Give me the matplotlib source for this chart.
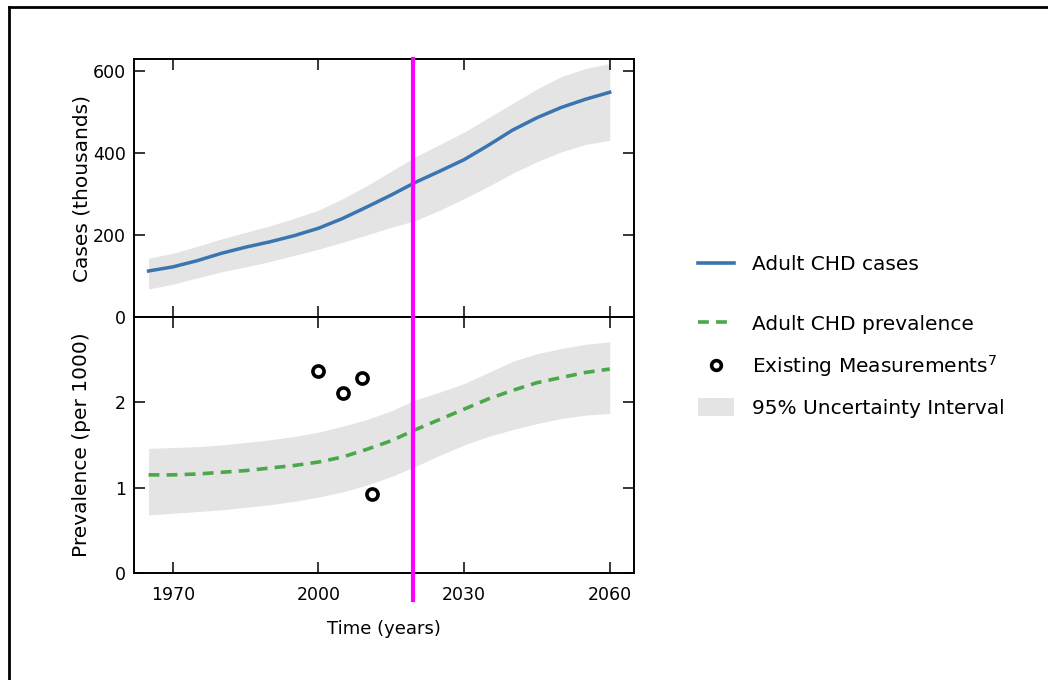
import numpy as np
import matplotlib
matplotlib.use("Agg")
import matplotlib.pyplot as plt
from matplotlib.lines import Line2D
from matplotlib.patches import Patch
import matplotlib.transforms as mtransforms

# Data
years = [1965, 1970, 1975, 1980, 1985, 1990, 1995, 2000, 2005, 2010,
         2015, 2020, 2025, 2030, 2035, 2040, 2045, 2050, 2055, 2060]
cases = [112, 122, 137, 155, 170, 183, 198, 216, 240, 268,
         297, 328, 355, 383, 418, 455, 485, 510, 530, 547]
cases_hi = [143, 155, 172, 190, 206, 222, 240, 260, 288, 320,
            355, 390, 420, 450, 485, 520, 555, 585, 605, 617]
cases_lo = [68, 80, 95, 110, 122, 135, 150, 165, 182, 200,
            218, 235, 260, 288, 318, 350, 378, 402, 420, 430]
prev = [1.15, 1.15, 1.16, 1.18, 1.20, 1.23, 1.26, 1.30, 1.36, 1.45,
        1.55, 1.68, 1.80, 1.92, 2.04, 2.14, 2.23, 2.29, 2.35, 2.39]
prev_hi = [1.46, 1.47, 1.48, 1.50, 1.53, 1.56, 1.60, 1.65, 1.72, 1.80,
           1.90, 2.03, 2.12, 2.22, 2.35, 2.48, 2.57, 2.63, 2.68, 2.71]
prev_lo = [0.68, 0.70, 0.72, 0.74, 0.77, 0.80, 0.84, 0.89, 0.95, 1.03,
           1.13, 1.25, 1.38, 1.50, 1.60, 1.68, 1.75, 1.81, 1.85, 1.87]
meas_years = [2000, 2005, 2009, 2011]
meas_vals = [2.37, 2.11, 2.28, 0.93]
now_year = 2019.5

blue = "#3a75b0"
green = "#4aa84a"
band = "#e4e4e4"

W, H = 1048, 680
fig = plt.figure(figsize=(W / 100, H / 100), dpi=100)

ax1 = fig.add_axes([134 / W, 1 - 317 / H, 500 / W, (317 - 59) / H])
ax2 = fig.add_axes([134 / W, 1 - 573 / H, 500 / W, (573 - 317) / H], sharex=ax1)

# top: cases
ax1.fill_between(years, cases_lo, cases_hi, color=band, lw=0)
ax1.plot(years, cases, color=blue, lw=2.5)
ax1.set_ylim(0, 628)
ax1.set_yticks([0, 200, 400, 600])
ax1.set_ylabel("Cases (thousands)", fontsize=14.5)
ax1.yaxis.set_label_coords(-0.086, 0.5)

# bottom: prevalence
ax2.fill_between(years, prev_lo, prev_hi, color=band, lw=0)
ax2.plot(years, prev, color=green, lw=2.6, ls=(0, (3, 2)))
ax2.plot(meas_years, meas_vals, "o", ms=8, mfc="white", mec="black", mew=2.6)
ax2.set_ylim(0, 3)
ax2.set_yticks([0, 1, 2])
ax2.set_ylabel("Prevalence (per 1000)", fontsize=14.5)
ax2.yaxis.set_label_coords(-0.086, 0.5)
ax2.set_xlabel("Time (years)", fontsize=13, labelpad=12)

ax1.set_xlim(1962, 2065)
ax1.set_xticks([1970, 2000, 2030, 2060])

for ax in (ax1, ax2):
    for s in ax.spines.values():
        s.set_linewidth(1.4)
    ax.tick_params(direction="in", top=True, right=True, length=8, width=1.1,
                   labelsize=12.5, pad=6)
ax2.tick_params(axis="x", pad=9)
ax1.tick_params(labelbottom=False)

# magenta "now" line running past the bottom axis
trans = mtransforms.blended_transform_factory(ax2.transData, fig.transFigure)
fig.add_artist(Line2D([now_year, now_year], [1 - 59 / H, 1 - 600 / H],
                      transform=trans, color="#ff00ff", lw=3))

# legends
fs = 14.5
leg1 = fig.legend(handles=[Line2D([], [], color=blue, lw=2.6)],
                  labels=["Adult CHD cases"], loc="center left",
                  bbox_to_anchor=(688 / W, 1 - 265 / H), frameon=False,
                  fontsize=fs, borderpad=0, handlelength=1.8, handletextpad=0.9)
handles2 = [Line2D([], [], color=green, lw=2.6, ls=(0, (3, 2))),
            Line2D([], [], ls="none", marker="o", ms=7, mfc="white",
                   mec="black", mew=2.6),
            Patch(facecolor=band, edgecolor="none")]
labels2 = ["Adult CHD prevalence", "Existing Measurements$^7$",
           "95% Uncertainty Interval"]
fig.legend(handles=handles2, labels=labels2, loc="center left",
           bbox_to_anchor=(688 / W, 1 - 366 / H), frameon=False,
           fontsize=fs, borderpad=0, handlelength=1.8, handletextpad=0.9,
           handleheight=1.0, labelspacing=0.95)

# frame around the figure (only left and top edges visible)
fig.add_artist(Line2D([9 / W, 9 / W], [0, 1 - 7 / H], transform=fig.transFigure,
                      color="black", lw=2))
fig.add_artist(Line2D([9 / W, 1], [1 - 7 / H, 1 - 7 / H],
                      transform=fig.transFigure, color="black", lw=2))

fig.savefig("out.png", dpi=100, facecolor="white")
